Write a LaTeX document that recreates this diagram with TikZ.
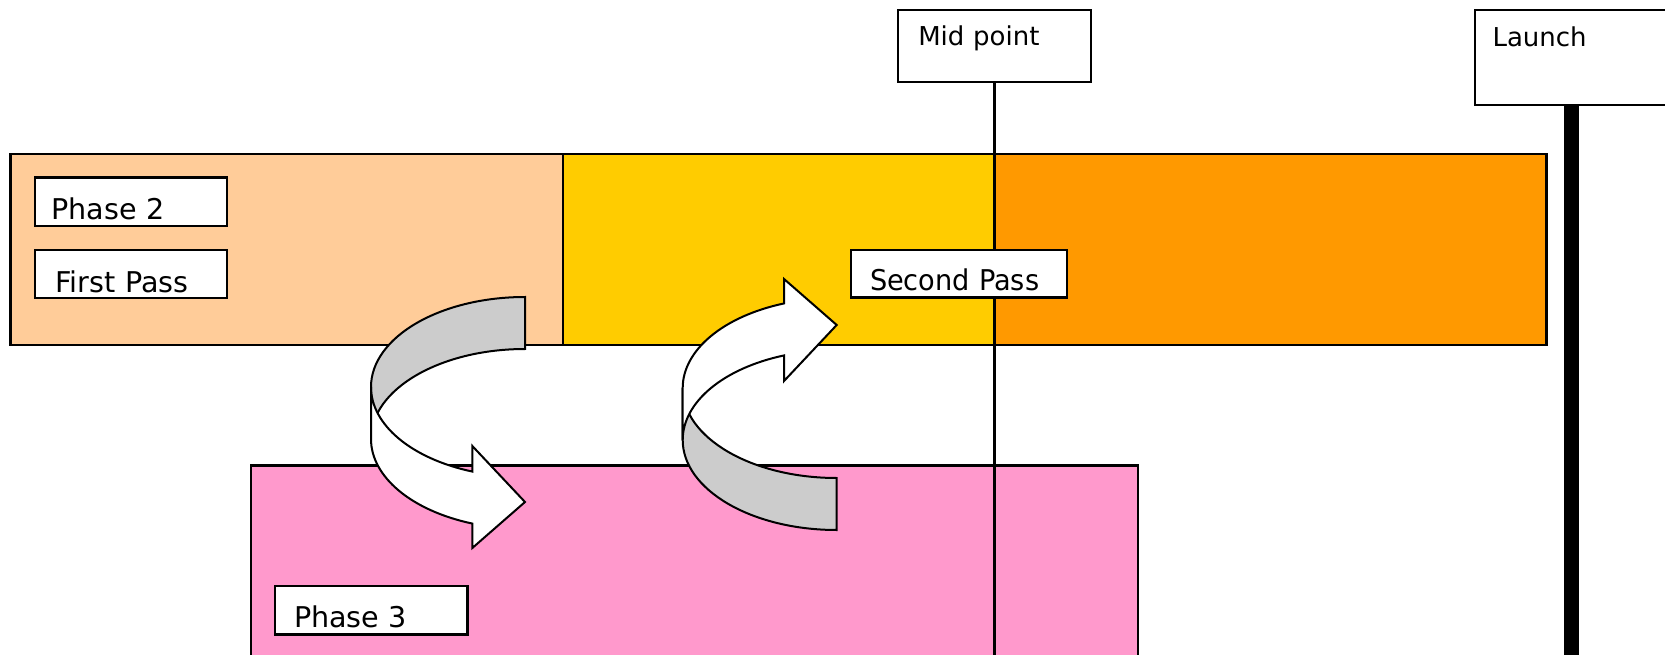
\documentclass[tikz,border=0pt]{standalone}
\usepackage{fontspec}
\setmainfont{DejaVu Sans}
\usepackage{graphicx}
\definecolor{peachc}{HTML}{FFCC99}
\definecolor{yellowc}{HTML}{FFCC00}
\definecolor{orangec}{HTML}{FF9900}
\definecolor{pinkc}{HTML}{FF99CC}
\definecolor{ribgray}{HTML}{CCCCCC}
\begin{document}
\begin{tikzpicture}[x=1pt,y=1pt,line join=miter,
  band/.style={draw=black, line width=2.2pt, inner sep=0pt, outer sep=0pt, anchor=north west},
  lbl/.style={draw=black, line width=2.4pt, fill=white, inner ysep=0pt, outer sep=0pt, align=left, anchor=north west, font=\fontsize{28.6}{30}\selectfont},
  toplbl/.style={lbl, font=\fontsize{26}{28}\selectfont},
  ribback/.style={draw=black, line width=2pt, fill=ribgray},
  ribfront/.style={draw=black, line width=2pt, fill=white},
  ell/.style={x radius=154pt, y radius=90pt}]
\clip (0,0) rectangle (1665,-655);
\fill[white] (0,0) rectangle (1665,-655);
% phase bands
\node[band, fill=peachc, minimum width=552.5pt, minimum height=191pt] (bandA) at (10.5,-154) {};
\node[band, fill=yellowc, minimum width=432pt, minimum height=191pt] (bandB) at (563,-154) {};
\node[band, fill=orangec, minimum width=551.5pt, minimum height=191pt] (bandC) at (995,-154) {};
\node[band, fill=pinkc, minimum width=887pt, minimum height=210pt] (bandD) at (251,-465.5) {};
% launch bar
\coordinate (lbtop) at (1571.5,-100);
\coordinate (lbbot) at (1571.5,-665);
\draw[line width=15pt] (lbtop) -- (lbbot);
% mid point box and line
\node[toplbl, text width=152.4pt, inner xsep=20.3pt, text height=36pt, text depth=36pt] (mid) at (898,-10) {Mid point};
\coordinate (midbot) at (mid.south |- 0,-665);
\draw[line width=2.2pt] (mid.south) -- (midbot);
% curved arrow 1
\draw[ribback] (525,-297) arc[start angle=90, end angle=180, ell] -- (371,-439) arc[start angle=180, end angle=90, ell] -- cycle;
\draw[ribfront] (371,-387) arc[start angle=180, end angle=250, ell] -- (472.33,-446) -- (525,-502) -- (472.33,-548) -- (472.33,-523.57) arc[start angle=250, end angle=180, ell] -- cycle;
% curved arrow 2 (mirror)
\begin{scope}[xshift=311.7pt, yshift=-827pt, yscale=-1]
\draw[ribback] (525,-297) arc[start angle=90, end angle=180, ell] -- (371,-439) arc[start angle=180, end angle=90, ell] -- cycle;
\draw[ribfront] (371,-387) arc[start angle=180, end angle=250, ell] -- (472.33,-446) -- (525,-502) -- (472.33,-548) -- (472.33,-523.57) arc[start angle=250, end angle=180, ell] -- cycle;
\end{scope}
% labels
\node[lbl, text width=158.8pt, inner xsep=16.6pt, text height=42.3pt, text depth=6pt] (ph2) at (35,-177.7) {Phase 2};
\node[lbl, text width=150.8pt, inner xsep=20.6pt, text height=42pt, text depth=6pt] (fp) at (35,-250) {First Pass};
\node[lbl, text width=178pt, inner xsep=19pt, text height=40pt, text depth=7.3pt] (sp) at (851,-250) {\scalebox{0.95}[1]{Second Pass}};
\node[lbl, text width=154pt, inner xsep=19.3pt, text height=41.7pt, text depth=6.6pt] (ph3) at (274.7,-586) {Phase 3};
\node[toplbl, text width=165pt, inner xsep=17.5pt, text height=36.7pt, text depth=58.6pt] (launch) at (1475,-10) {Launch};
\end{tikzpicture}
\end{document}
